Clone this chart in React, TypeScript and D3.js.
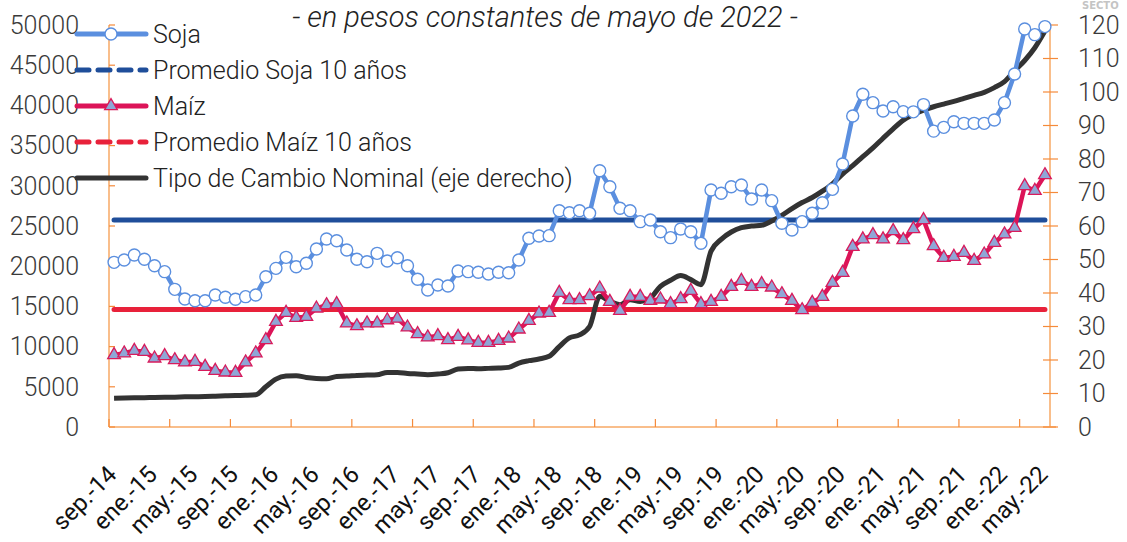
import React, { useEffect, useRef } from 'react';
import * as d3 from 'd3';

// monthly series, sep-14 .. may-22 (93 months)
const MESES = ['ene.', 'feb.', 'mar.', 'abr.', 'may.', 'jun.', 'jul.', 'ago.', 'sep.', 'oct.', 'nov.', 'dic.'];

const soja = [
  20480, 20770, 21390, 20860, 20060, 19320, 17120, 15920, 15710, 15710, 16420, 16130,
  15880, 16210, 16420, 18690, 19730, 21100, 19940, 20360, 22140, 23380, 23170, 22010,
  20860, 20560, 21600, 20650, 21060, 20060, 18370, 17040, 17660, 17540, 19400, 19320,
  19240, 19030, 19240, 19190, 20770, 23470, 23760, 23800, 26900, 26650, 26900, 26580,
  31880, 29890, 27200, 26900, 25540, 25750, 24290, 23550, 24630, 24290, 22850, 29480,
  29070, 29890, 30100, 28360, 29480, 28150, 25340, 24500, 25540, 26580, 27900, 29560,
  32710, 38680, 41380, 40340, 39300, 39840, 39220, 39200, 40100, 36800, 37270, 37970,
  37770, 37770, 37770, 38180, 40340, 43900, 49500, 48800, 49800,
];

const maiz = [
  8960, 9170, 9490, 9370, 8540, 8830, 8330, 8050, 8130, 7500, 7000, 6800,
  6760, 8050, 9170, 10820, 13100, 14220, 13600, 13720, 14760, 15170, 15300, 12900,
  12560, 12900, 12900, 13300, 13500, 12400, 11570, 11160, 11320, 10820, 11230, 10800,
  10490, 10490, 10730, 11030, 12150, 13220, 14140, 14220, 16700, 15800, 15800, 16290,
  17250, 15580, 14470, 16210, 16210, 15710, 15880, 15300, 15920, 16950, 15300, 15580,
  16210, 17450, 18200, 17450, 17790, 17370, 16540, 15710, 14550, 15460, 16210, 17950,
  19190, 22430, 23350, 23880, 23350, 24380, 23260, 24630, 25750, 22510, 21060, 21180,
  21680, 20680, 21480, 22920, 23970, 24790, 29980, 29390, 31340,
];

const tipoCambio = [
  8.6, 8.65, 8.7, 8.75, 8.8, 8.85, 8.9, 9.0, 9.05, 9.1, 9.2, 9.3,
  9.4, 9.45, 9.6, 12.0, 14.3, 15.2, 15.3, 14.8, 14.5, 14.4, 15.1, 15.2,
  15.4, 15.5, 15.6, 16.3, 16.3, 16.0, 15.8, 15.6, 15.8, 16.2, 17.3, 17.5,
  17.4, 17.5, 17.6, 17.8, 19.1, 19.8, 20.3, 21.1, 24.0, 26.6, 27.5, 30.0,
  39.0, 37.5, 36.5, 38.0, 37.5, 38.5, 42.0, 43.8, 45.2, 44.0, 42.5, 52.5,
  56.0, 58.2, 59.5, 60.0, 60.2, 61.5, 63.2, 65.2, 67.0, 68.5, 70.4, 72.6,
  75.5, 78.0, 80.7, 83.3, 86.2, 89.0, 91.6, 93.3, 94.6, 95.6, 96.4, 97.2,
  98.1, 99.0, 99.9, 101.3, 103.1, 106.3, 109.4, 113.2, 118.2,
];

const promedioSoja = 25750;
const promedioMaiz = 14600;

const leftTicks = [0, 5000, 10000, 15000, 20000, 25000, 30000, 35000, 40000, 45000, 50000];
const rightTicks = [0, 10, 20, 30, 40, 50, 60, 70, 80, 90, 100, 110, 120];

const meses = soja.map((_, i) => {
  const m = (8 + i) % 12;
  const y = 14 + Math.floor((8 + i) / 12);
  return `${MESES[m]}-${y}`;
});

const leyenda = [
  { name: 'Soja', color: '#5B8FDF', dash: null, marker: 'circle' },
  { name: 'Promedio Soja 10 años', color: '#1F4E9A', dash: '12 9', marker: null },
  { name: 'Maíz', color: '#DC1458', dash: null, marker: 'triangle' },
  { name: 'Promedio Maíz 10 años', color: '#E8213A', dash: '12 9', marker: null },
  { name: 'Tipo de Cambio Nominal (eje derecho)', color: '#333333', dash: null, marker: null },
];

const FONT = "Roboto, 'Open Sans', sans-serif";

const App = () => {
  const svgRef = useRef<SVGSVGElement>(null);

  useEffect(() => {
    const W = 1127, H = 542;
    const left = 109, right = 1050, top = 25, bottom = 427;
    const svg = d3.select(svgRef.current);
    svg.selectAll('*').remove();
    svg.attr('width', W).attr('height', H);

    const x = d3.scaleBand<string>().domain(meses).range([left, right]).padding(0);
    const cx = (i: number) => (x(meses[i]) as number) + x.bandwidth() / 2;
    const yL = d3.scaleLinear().domain([0, 50000]).range([bottom, top]);
    const yR = d3.scaleLinear().domain([0, 120]).range([bottom, top]);

    const axisColor = '#F7A865';
    const tickColor = '#F58A3A';
    const textColor = '#3a3a3a';

    // title
    svg.append('text')
      .attr('x', 545).attr('y', 27)
      .attr('text-anchor', 'middle')
      .style('font-family', FONT).style('font-style', 'italic').style('font-weight', 300)
      .style('font-size', '29px')
      .attr('fill', '#222')
      .text('- en pesos constantes de mayo de 2022 -');

    svg.append('text')
      .attr('x', 1082).attr('y', 9)
      .style('font-family', 'DejaVu Sans, sans-serif').style('font-size', '10px').style('font-weight', 'bold')
      .attr('fill', '#c4c4c4')
      .text('SECTO');

    // axes
    const ax = svg.append('g');
    ax.append('line').attr('x1', left).attr('x2', left).attr('y1', top).attr('y2', bottom)
      .attr('stroke', axisColor).attr('stroke-width', 1.5);
    ax.append('line').attr('x1', right).attr('x2', right).attr('y1', top).attr('y2', bottom)
      .attr('stroke', axisColor).attr('stroke-width', 1.5);
    ax.append('line').attr('x1', left).attr('x2', right + 6).attr('y1', bottom).attr('y2', bottom)
      .attr('stroke', axisColor).attr('stroke-width', 1.5);

    ax.selectAll('.lt').data(leftTicks).enter().append('line')
      .attr('x1', left).attr('x2', left + 6)
      .attr('y1', d => yL(d)).attr('y2', d => yL(d))
      .attr('stroke', tickColor).attr('stroke-width', 1.2);
    ax.selectAll('.ll').data(leftTicks).enter().append('text')
      .attr('x', 79).attr('y', d => yL(d))
      .attr('text-anchor', 'end').attr('dy', '0.35em')
      .style('font-family', FONT).style('font-size', '25px').style('font-weight', 300)
      .attr('fill', textColor)
      .text(d => d);

    ax.selectAll('.rt').data(rightTicks).enter().append('line')
      .attr('x1', right - 7).attr('x2', right + 8)
      .attr('y1', d => yR(d)).attr('y2', d => yR(d))
      .attr('stroke', tickColor).attr('stroke-width', 1.2);
    ax.selectAll('.rl').data(rightTicks).enter().append('text')
      .attr('x', 1078).attr('y', d => yR(d))
      .attr('dy', '0.35em')
      .style('font-family', FONT).style('font-size', '25px').style('font-weight', 300)
      .attr('fill', textColor)
      .text(d => d);

    const tickIdx = d3.range(0, meses.length + 1, 6);
    ax.selectAll('.bt').data(tickIdx).enter().append('line')
      .attr('x1', d => left + d * x.bandwidth()).attr('x2', d => left + d * x.bandwidth())
      .attr('y1', bottom).attr('y2', bottom - 8)
      .attr('stroke', tickColor).attr('stroke-width', 1.2);

    const labelIdx = d3.range(0, meses.length, 4);
    ax.selectAll('.bl').data(labelIdx).enter().append('text')
      .attr('transform', d => `translate(${cx(d) + 4},${476}) rotate(-45)`)
      .attr('text-anchor', 'end')
      .style('font-family', FONT).style('font-size', '24px').style('font-weight', 400)
      .attr('fill', '#111')
      .text(d => meses[d]);

    // averages
    const flat = (v: number) => d3.line<number>().x((_, i) => cx(i)).y(() => yL(v))(soja);
    svg.append('path').attr('d', flat(promedioSoja)).attr('fill', 'none')
      .attr('stroke', '#1F4E9A').attr('stroke-width', 5).attr('stroke-linecap', 'round');
    svg.append('path').attr('d', flat(promedioMaiz)).attr('fill', 'none')
      .attr('stroke', '#E8213A').attr('stroke-width', 5).attr('stroke-linecap', 'round');

    // tipo de cambio
    const lineTC = d3.line<number>().x((_, i) => cx(i)).y(d => yR(d)).curve(d3.curveMonotoneX);
    svg.append('path').attr('d', lineTC(tipoCambio)).attr('fill', 'none')
      .attr('stroke', '#333').attr('stroke-width', 5).attr('stroke-linejoin', 'round');

    // maiz
    const lineL = d3.line<number>().x((_, i) => cx(i)).y(d => yL(d));
    svg.append('path').attr('d', lineL(maiz)).attr('fill', 'none')
      .attr('stroke', '#DC1458').attr('stroke-width', 4.5).attr('stroke-linejoin', 'round');
    const tri = d3.symbol().type(d3.symbolTriangle).size(70);
    svg.append('g').selectAll('path').data(maiz).enter().append('path')
      .attr('d', tri)
      .attr('transform', (d, i) => `translate(${cx(i)},${yL(d)})`)
      .attr('fill', '#8FA6D6').attr('stroke', '#D81B5C').attr('stroke-width', 1.3);

    // soja
    svg.append('path').attr('d', lineL(soja)).attr('fill', 'none')
      .attr('stroke', '#5B8FDF').attr('stroke-width', 4.5).attr('stroke-linejoin', 'round');
    svg.append('g').selectAll('circle').data(soja).enter().append('circle')
      .attr('cx', (d, i) => cx(i)).attr('cy', d => yL(d)).attr('r', 6)
      .attr('fill', '#fff').attr('stroke', '#5B8FDF').attr('stroke-width', 1.4);

    // legend
    const lg = svg.append('g');
    leyenda.forEach((s, k) => {
      const yy = 34 + k * 36;
      lg.append('line').attr('x1', 77).attr('x2', 146).attr('y1', yy).attr('y2', yy)
        .attr('stroke', s.color).attr('stroke-width', 5)
        .attr('stroke-linecap', 'round')
        .attr('stroke-dasharray', s.dash);
      if (s.marker === 'circle') {
        lg.append('circle').attr('cx', 111).attr('cy', yy).attr('r', 6)
          .attr('fill', '#fff').attr('stroke', s.color).attr('stroke-width', 1.4);
      }
      if (s.marker === 'triangle') {
        lg.append('path').attr('d', tri).attr('transform', `translate(111,${yy})`)
          .attr('fill', '#8FA6D6').attr('stroke', '#D81B5C').attr('stroke-width', 1.3);
      }
      lg.append('text').attr('x', 153).attr('y', yy).attr('dy', '0.35em')
        .style('font-family', FONT).style('font-size', '25px').style('font-weight', 300)
        .attr('fill', '#222')
        .text(s.name);
    });
  }, []);

  return (
    <div style={{ position: 'absolute', left: 0, top: 0, width: 1127, height: 542, background: '#fff' }}>
      <svg ref={svgRef} style={{ display: 'block' }}></svg>
    </div>
  );
};

export default App;
